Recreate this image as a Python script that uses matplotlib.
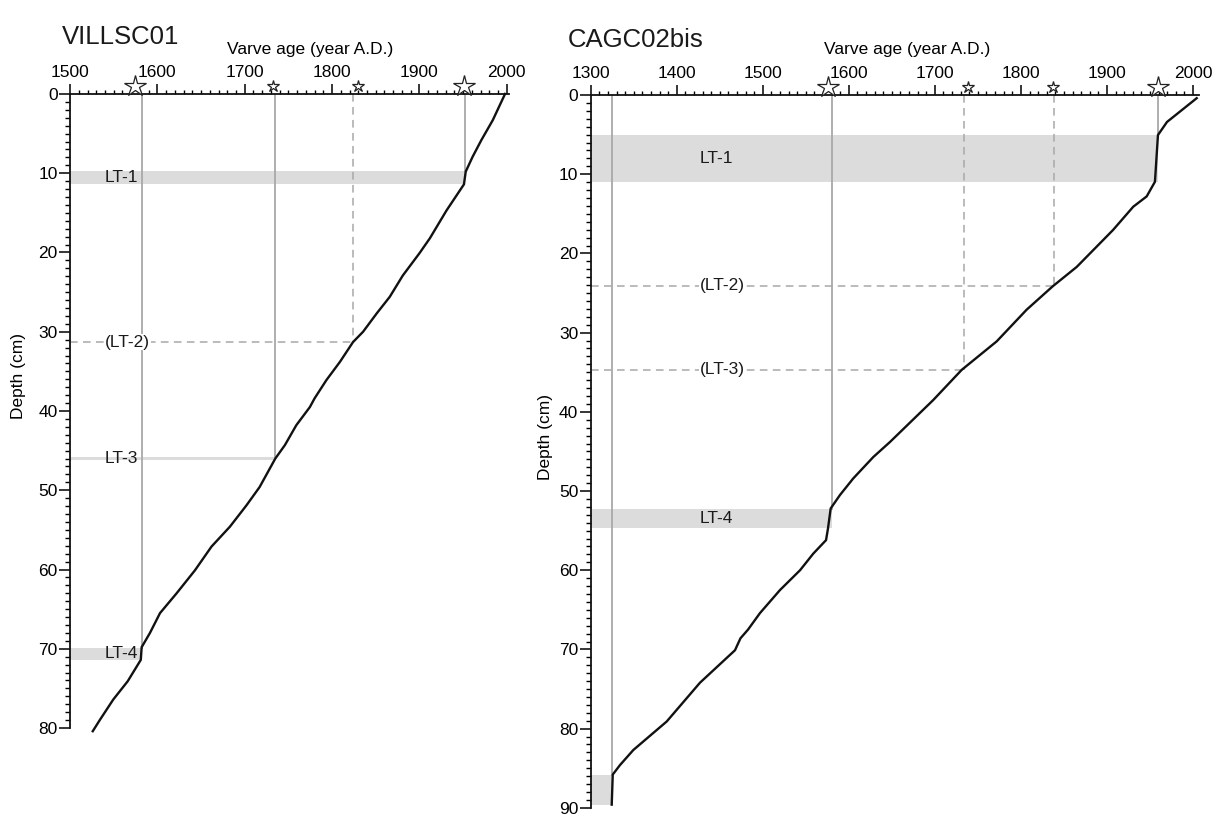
import matplotlib
matplotlib.use('Agg')
from matplotlib import pyplot as plt
from matplotlib.ticker import MultipleLocator

plt.rcParams['font.family'] = ['Liberation Sans', 'DejaVu Sans']
plt.rcParams['text.color'] = '#1a1a1a'

# --- VILLSC01 varve age-depth model ---
vil_age = [1998, 1984, 1971, 1961, 1953, 1951, 1931, 1912, 1900, 1881, 1866, 1851,
           1835.5, 1824, 1809, 1793.5, 1780, 1774.6, 1759, 1746, 1735, 1717, 1702,
           1683, 1662, 1643, 1622, 1603, 1591.5, 1582, 1581, 1566, 1549.5, 1534, 1526]
vil_depth = [0, 3.3, 5.8, 7.9, 9.8, 11.4, 14.7, 18.2, 20.1, 22.9, 25.6, 27.7,
             30.0, 31.3, 33.8, 36.1, 38.4, 39.5, 41.8, 44.3, 46.0, 49.6, 51.9,
             54.6, 57.1, 60.1, 63.0, 65.5, 68.0, 69.8, 71.4, 74.1, 76.4, 79.0, 80.4]
vil_lt_names = ['LT-1', '(LT-2)', 'LT-3', 'LT-4']
vil_lt_years = [1952, 1824, 1735, 1582]
vil_lt_top = [9.7, 31.3, 45.8, 69.9]
vil_lt_bot = [11.4, 31.3, 46.2, 71.4]
vil_lt_dashed = [False, True, False, False]
vil_label_x = [1559, 1566, 1559, 1559]
vil_star_years = [1574, 1732, 1829.5, 1951]
vil_star_big = [True, False, False, True]

# --- CAGC02bis varve age-depth model ---
cag_age = [2004.3, 1969.8, 1959.3, 1955.8, 1946.2, 1930.6, 1907, 1864.9, 1837,
           1806.7, 1771.9, 1731.2, 1698.2, 1647.9, 1628.5, 1605.2, 1589.7, 1578.9,
           1575.8, 1573.5, 1558.7, 1543.3, 1520, 1496.8, 1482.8, 1474, 1467.7, 1427,
           1388.3, 1349.5, 1334, 1325.6, 1324.4]
cag_depth = [0.4, 3.4, 5.05, 10.95, 12.8, 14.1, 17.05, 21.7, 24.15,
             27.1, 31.1, 34.7, 38.5, 43.8, 45.7, 48.4, 50.5, 52.2,
             54.7, 56.2, 57.9, 60.0, 62.5, 65.4, 67.5, 68.6, 70.1, 74.2,
             79.1, 82.7, 84.6, 85.8, 89.6]
cag_lt_names = ['LT-1', '(LT-2)', '(LT-3)', 'LT-4', '']
cag_lt_years = [1958.8, 1838.3, 1733.6, 1580, 1324.5]
cag_lt_top = [5.05, 24.1, 34.7, 52.3, 85.8]
cag_lt_bot = [10.95, 24.1, 34.7, 54.7, 89.7]
cag_lt_dashed = [False, True, True, False, False]
cag_label_x = [1446, 1453, 1453, 1446, 1446]
cag_star_years = [1576, 1738, 1837, 1959]
cag_star_big = [True, False, False, True]

band_col = '#dcdcdc'
line_col = '#a8a8a8'


def draw_core(ax, name, age, depth, names, years, top, bot, dashed, label_x,
              star_years, star_big, xlim, ylim, xlabel_pos, ylabel_pos, title_pos):
    x0 = xlim[0]
    for nm, yr, t, b, d, lx in zip(names, years, top, bot, dashed, label_x):
        if d:
            ax.plot([x0, yr], [t, t], color=line_col, lw=1.1, ls=(0, (5, 3.5)), zorder=1)
            ax.plot([yr, yr], [0, t], color=line_col, lw=1.1, ls=(0, (5, 3.5)), zorder=1)
        else:
            ax.fill_betweenx([t, b], x0, yr, color=band_col, lw=0, zorder=0)
            ax.plot([yr, yr], [0, t], color=line_col, lw=1.3, zorder=1)
        if nm:
            bbox = dict(facecolor='white', edgecolor='none', pad=0.5) if d else None
            ax.text(lx, (t + b) / 2, nm, ha='center', va='center', fontsize=12.5,
                    bbox=bbox, zorder=3)

    ax.plot(age, depth, color='#111111', lw=1.7, zorder=4, clip_on=False)

    for sy, big in zip(star_years, star_big):
        ax.plot(sy, -1.0, marker='*', ms=16 if big else 9, mfc='white', mec='#222222',
                mew=0.9, clip_on=False, zorder=5)

    ax.set_xlim(*xlim)
    ax.set_ylim(ylim[1], ylim[0])
    ax.xaxis.set_ticks_position('top')
    ax.xaxis.set_label_position('top')
    ax.set_xticks(range(int(xlim[0]), 2001, 100))
    ax.set_yticks(range(0, ylim[1] + 1, 10))
    ax.xaxis.set_minor_locator(MultipleLocator(10))
    ax.yaxis.set_minor_locator(MultipleLocator(1))
    ax.tick_params(axis='x', which='major', length=7, width=1.1, pad=3, labelsize=12.5)
    ax.tick_params(axis='x', which='minor', length=3, width=1.0)
    ax.tick_params(axis='y', which='major', length=8, width=1.1, pad=1, labelsize=12.5)
    ax.tick_params(axis='y', which='minor', length=3.5, width=1.0)
    for s in ['right', 'bottom']:
        ax.spines[s].set_visible(False)
    for s in ['top', 'left']:
        ax.spines[s].set_linewidth(1.3)
        ax.spines[s].set_color('#111111')

    ax.set_xlabel('Varve age (year A.D.)', fontsize=12.5)
    ax.xaxis.set_label_coords(*xlabel_pos)
    ax.set_ylabel('Depth (cm)', fontsize=12.5)
    ax.yaxis.set_label_coords(*ylabel_pos)
    ax.text(title_pos[0], title_pos[1], name, transform=ax.transAxes, fontsize=18.5,
            ha='left', va='center')


fig = plt.figure(figsize=(12.18, 8.15), dpi=100)
ax1 = fig.add_axes([0.0575, 0.1067, 0.3600, 0.7780])
ax2 = fig.add_axes([0.4850, 0.0088, 0.4994, 0.8746])

draw_core(ax1, 'VILLSC01', vil_age, vil_depth, vil_lt_names, vil_lt_years,
          vil_lt_top, vil_lt_bot, vil_lt_dashed, vil_label_x,
          vil_star_years, vil_star_big, (1500, 2002), (0, 80),
          (0.547, 1.063), (-0.10, 0.555), (-0.018, 1.09))
draw_core(ax2, 'CAGC02bis', cag_age, cag_depth, cag_lt_names, cag_lt_years,
          cag_lt_top, cag_lt_bot, cag_lt_dashed, cag_label_x,
          cag_star_years, cag_star_big, (1300, 2007), (0, 90),
          (0.52, 1.058), (-0.062, 0.52), (-0.038, 1.077))

fig.savefig('out.png', dpi=100)
